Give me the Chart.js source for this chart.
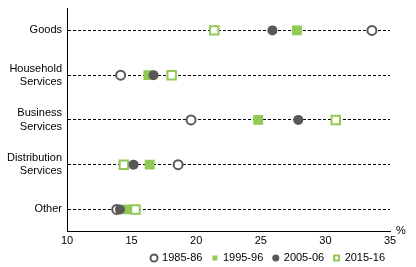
<!DOCTYPE html>
<html>
<head>
<meta charset="utf-8">
<script src="https://cdn.jsdelivr.net/npm/chart.js@4.4.1/dist/chart.umd.min.js"></script>
<style>
  html, body { margin: 0; padding: 0; background: #fff; }
  #wrap { position: relative; width: 416px; height: 267px; }
</style>
</head>
<body>
<div id="wrap"><canvas id="c"></canvas></div>
<script>
// 行业类别（自上而下）与四个年份的数值（%）
var categories = ["Goods", ["Household", "Services"], ["Business", "Services"], ["Distribution", "Services"], "Other"];
var catKeys = ["Goods", "Household Services", "Business Services", "Distribution Services", "Other"];
var xTicks = [10, 15, 20, 25, 30, 35];

var v1985 = [33.6, 14.15, 19.6, 18.6, 13.85];
var v1995 = [27.8, 16.3, 24.8, 16.4, 14.7];
var v2005 = [25.9, 16.7, 27.9, 15.15, 14.1];
var v2015 = [21.4, 18.1, 30.8, 14.4, 15.3];

var INK = "#000";
var GREY = "#595959";
var GREEN = "#92C955";
Chart.defaults.font.family = "'Liberation Sans', Arial, sans-serif";
Chart.defaults.font.size = 11;
Chart.defaults.color = INK;
Chart.defaults.animation = false;

function pts(vals) {
  return vals.map(function (v, i) { return { x: v, y: catKeys[i] }; });
}

// 右端的 "%" 单位；图例高度压缩并上移
var LEGEND_H = 16;
var LEGEND_TOP = 242.5;
var tweaks = {
  id: "tweaks",
  afterInit: function (chart) {
    var lg = chart.legend;
    if (!lg) return;
    var fit = lg.fit;
    lg.fit = function () {
      fit.call(this);
      this.height = LEGEND_H;
    };
  },
  afterLayout: function (chart) {
    var lg = chart.legend;
    if (!lg) return;
    lg.top = LEGEND_TOP;
    lg.bottom = chart.height;
    lg.height = lg.bottom - lg.top;
    lg.left += 5;
    lg.right += 5;
  },
  afterDraw: function (chart) {
    var ctx = chart.ctx, a = chart.chartArea;
    ctx.save();
    ctx.font = "11px 'Liberation Sans', Arial, sans-serif";
    ctx.fillStyle = INK;
    ctx.textAlign = "left";
    ctx.textBaseline = "alphabetic";
    ctx.fillText("%", a.right + 6, a.bottom + 2);
    ctx.restore();
  }
};

new Chart(document.getElementById("c"), {
  type: "scatter",
  data: {
    datasets: [
      { label: "1985-86", data: pts(v1985), pointStyle: "circle", pointRadius: 4.5, borderWidth: 2,
        borderColor: GREY, backgroundColor: "#fff", order: 4 },
      { label: "1995-96", data: pts(v1995), pointStyle: "rect", pointRadius: 7, borderWidth: 0,
        borderColor: GREEN, backgroundColor: GREEN, order: 3 },
      { label: "2005-06", data: pts(v2005), pointStyle: "circle", pointRadius: 5, borderWidth: 0,
        borderColor: GREY, backgroundColor: GREY, order: 1 },
      { label: "2015-16", data: pts(v2015), pointStyle: "rect", pointRadius: 6, borderWidth: 2,
        borderColor: GREEN, backgroundColor: "#fff", order: 2 }
    ]
  },
  options: {
    responsive: true,
    maintainAspectRatio: false,
    layout: { padding: { left: 0, right: 26, top: 6, bottom: 0 } },
    scales: {
      x: {
        type: "linear",
        min: 10, max: 35,
        afterBuildTicks: function (s) { s.ticks = xTicks.map(function (v) { return { value: v }; }); },
        grid: { display: false, drawTicks: false, tickLength: 0 },
        border: { display: true, color: INK, width: 1 },
        ticks: { color: INK, padding: 3, maxRotation: 0 }
      },
      y: {
        type: "category",
        labels: catKeys,
        offset: true,
        afterFit: function (s) { s.width = 67; s.paddingTop = 0; s.paddingBottom = 0; },
        grid: { display: true, offset: false, color: INK, lineWidth: 1, drawTicks: false },
        border: { display: true, color: INK, width: 1, dash: [3, 2] },
        ticks: {
          color: INK, padding: 5,
          callback: function (v, i) { return categories[i]; }
        }
      }
    },
    plugins: {
      tooltip: { enabled: false },
      legend: {
        position: "bottom",
        align: "end",
        labels: {
          usePointStyle: true,
          boxWidth: 5,
          boxHeight: 5,
          padding: 10,
          color: INK,
          font: { size: 11 },
          sort: function (a, b) { return a.datasetIndex - b.datasetIndex; }
        }
      }
    }
  },
  plugins: [tweaks]
});
</script>
</body>
</html>
